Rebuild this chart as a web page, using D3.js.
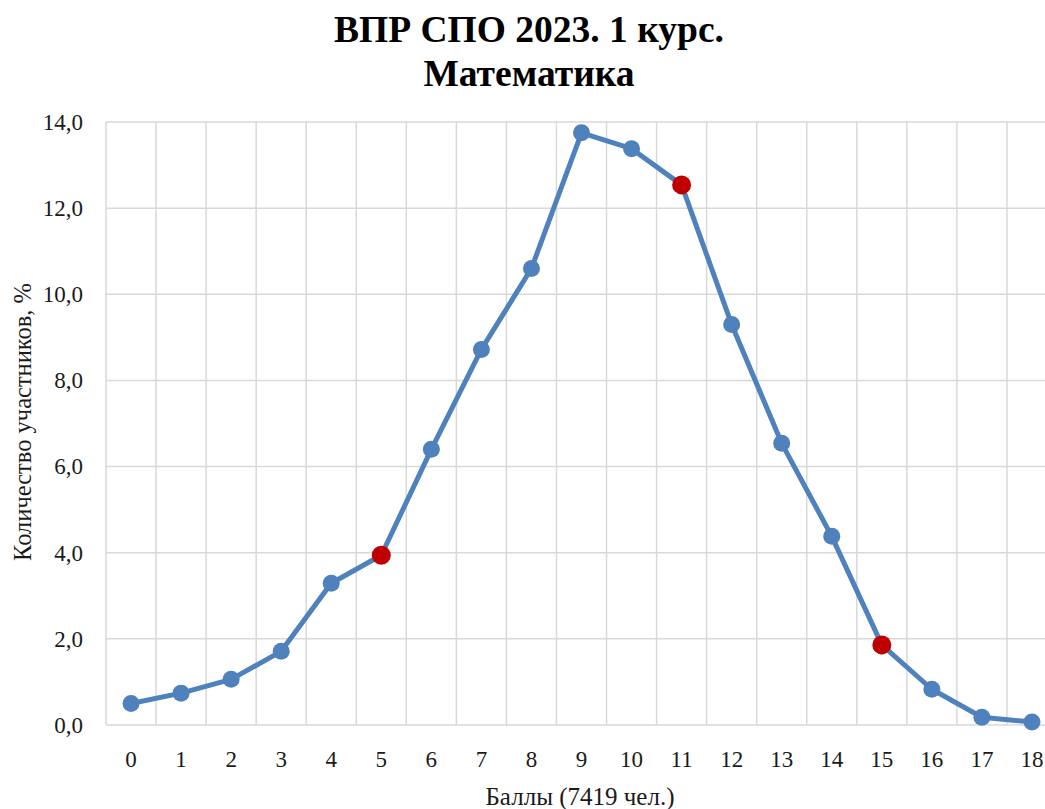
<!DOCTYPE html>
<html><head><meta charset="utf-8">
<script src="https://cdn.jsdelivr.net/npm/d3@7"></script>
<style>body{margin:0;background:#fff}svg{display:block}svg text{font-family:"Liberation Serif","Times New Roman","DejaVu Serif",serif !important}</style>
</head><body>
<script>
const categories = ["0","1","2","3","4","5","6","7","8","9","10","11","12","13","14","15","16","17","18"];
const values = [0.50,0.74,1.06,1.71,3.29,3.94,6.40,8.72,10.60,13.75,13.38,12.54,9.30,6.54,4.38,1.86,0.83,0.18,0.07];
const highlighted = ["5","11","15"];
const yTicks = [0,2,4,6,8,10,12,14];
const titleLines = ["ВПР СПО 2023. 1 курс.","Математика"];
const xTitle = "Баллы (7419 чел.)";
const yTitle = "Количество участников, %";

const W=1045,H=809;
const svg=d3.select("body").append("svg").attr("width",W).attr("height",H);
const m={left:106,right:1057,top:122,bottom:725};
const x=d3.scaleBand().domain(categories).range([m.left,m.right]);
const y=d3.scaleLinear().domain([0,14]).range([m.bottom,m.top]);

const g=svg.append("g");
g.selectAll("line.h").data(yTicks).join("line")
 .attr("x1",m.left).attr("x2",m.right).attr("y1",d=>y(d)).attr("y2",d=>y(d))
 .attr("stroke","#d9d9d9").attr("stroke-width",1.5);
const bounds=categories.map(c=>x(c)).concat([x(categories[categories.length-1])+x.bandwidth()]);
g.selectAll("line.v").data(bounds).join("line")
 .attr("x1",d=>d).attr("x2",d=>d).attr("y1",m.top).attr("y2",m.bottom)
 .attr("stroke","#d9d9d9").attr("stroke-width",1.5);

const yAxis=d3.axisLeft(y).tickValues(yTicks).tickSize(0).tickPadding(23)
 .tickFormat(d=>d3.format(".1f")(d).replace(".",","));
svg.append("g").attr("transform",`translate(${m.left},0)`).call(yAxis)
 .call(s=>s.select(".domain").remove())
 .selectAll("text").attr("font-size",23).attr("fill","#1a1a1a");

const xAxis=d3.axisBottom(x).tickSize(0).tickPadding(26);
svg.append("g").attr("transform",`translate(0,${m.bottom})`).call(xAxis)
 .call(s=>s.select(".domain").remove())
 .selectAll("text").attr("font-size",23).attr("fill","#1a1a1a");

const cx=d=>x(d)+x.bandwidth()/2;
const line=d3.line().x((d,i)=>cx(categories[i])).y(d=>y(d));
svg.append("path").datum(values).attr("d",line).attr("fill","none")
 .attr("stroke","#4f81bd").attr("stroke-width",5).attr("stroke-linejoin","round");
svg.selectAll("circle").data(categories).join("circle")
 .attr("cx",d=>cx(d)).attr("cy",(d,i)=>y(values[i]))
 .attr("r",d=>highlighted.includes(d)?9.5:8.5)
 .attr("fill",d=>highlighted.includes(d)?"#c00000":"#4f81bd");

svg.append("text").attr("text-anchor","middle")
 .attr("font-weight","bold").attr("font-size",37.5).attr("fill","#000")
 .selectAll("tspan").data(titleLines).join("tspan").attr("x",529).attr("y",(d,i)=>42+i*44).text(d=>d);
svg.append("text").attr("x",580).attr("y",805).attr("text-anchor","middle")
 .attr("font-size",25).attr("fill","#1a1a1a").text(xTitle);
svg.append("text").attr("transform","translate(31,422) rotate(-90)").attr("text-anchor","middle")
 .attr("font-size",24.5).attr("fill","#1a1a1a").text(yTitle);
</script>
</body></html>
